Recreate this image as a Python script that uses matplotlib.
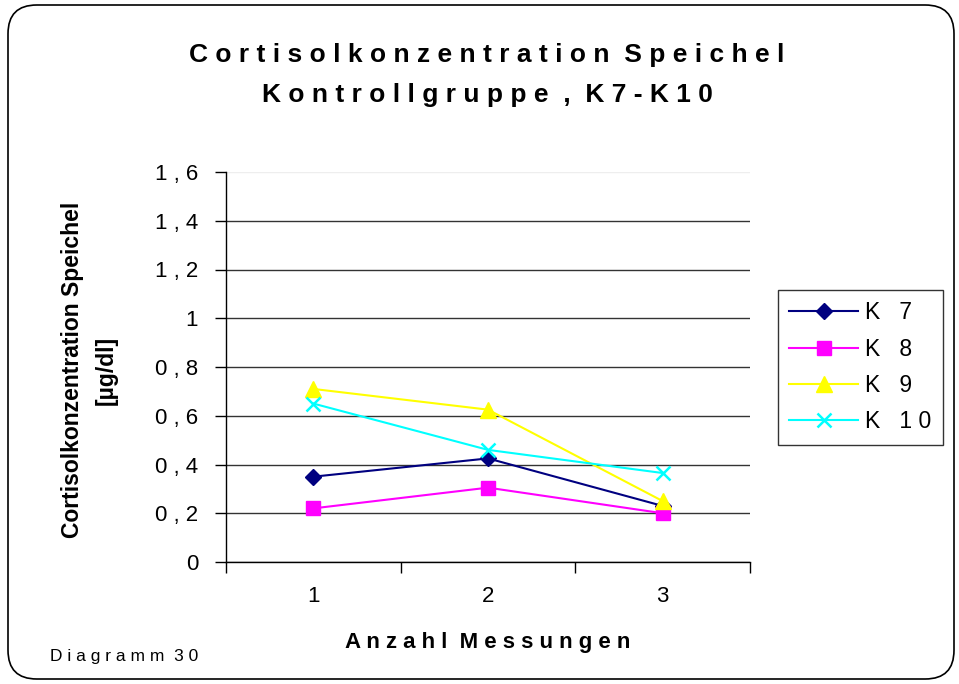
import matplotlib
matplotlib.use("Agg")
import matplotlib.pyplot as plt
from matplotlib.patches import FancyBboxPatch

plt.rcParams['font.family'] = ['Liberation Sans', 'DejaVu Sans']

categories = [1, 2, 3]
series_names = ["K 7", "K 8", "K 9", "K 10"]
k7 = [0.35, 0.425, 0.23]
k8 = [0.22, 0.305, 0.20]
k9 = [0.71, 0.625, 0.25]
k10 = [0.65, 0.46, 0.365]
y_ticks = [0, 0.2, 0.4, 0.6, 0.8, 1.0, 1.2, 1.4, 1.6]
y_tick_labels = ["0", "0 , 2", "0 , 4", "0 , 6", "0 , 8", "1", "1 , 2", "1 , 4", "1 , 6"]
title_lines = ["Cortisolkonzentration Speichel", "Kontrollgruppe , K7-K10"]
x_label = "Anzahl Messungen"
y_label = "Cortisolkonzentration Speichel\n[µg/dl]"
footnote = "Diagramm 30"


def spaced(s):
    words = s.split(" ")
    return "  ".join(" ".join(w) for w in words)


W, H = 959, 684
fig = plt.figure(figsize=(W / 100, H / 100), dpi=100)

# rounded border
border = FancyBboxPatch((8 / W, 5 / H), (946 / W), (674 / H),
                        boxstyle="round,pad=0,rounding_size=0.03",
                        transform=fig.transFigure, fill=False,
                        edgecolor='black', linewidth=1.2, mutation_aspect=W / H)
fig.patches.append(border)

ax = fig.add_axes([226 / W, 1 - 562 / H, (750 - 226) / W, (562 - 172) / H])

styles = [
    dict(color='#000080', marker='D', markersize=8, markerfacecolor='#000080', markeredgecolor='#000080'),
    dict(color='#FF00FF', marker='s', markersize=10, markerfacecolor='#FF00FF', markeredgecolor='#FF00FF'),
    dict(color='#FFFF00', marker='^', markersize=11, markerfacecolor='#FFFF00', markeredgecolor='#FFFF00'),
    dict(color='#00FFFF', marker='x', markersize=10, markeredgewidth=1.8),
]
for name, vals, st in zip(series_names, [k7, k8, k9, k10], styles):
    ax.plot(categories, vals, linewidth=1.5, label=name, zorder=3, **st)

ax.set_xlim(0.5, 3.5)
ax.set_ylim(0, 1.6)
ax.set_yticks(y_ticks)
ax.set_yticklabels(y_tick_labels, fontsize=16)
ax.set_xticks([0.5, 1.5, 2.5, 3.5])
ax.set_xticklabels([])
ax.set_xticks(categories, minor=True)
ax.set_xticklabels([str(c) for c in categories], minor=True, fontsize=16)
ax.tick_params(axis='x', which='minor', length=0, pad=17)
ax.tick_params(axis='x', which='major', length=8, direction='out', width=1)
ax.tick_params(axis='y', length=8, direction='out', width=1, pad=12)

for s in ['top', 'right']:
    ax.spines[s].set_visible(False)
for s in ['left', 'bottom']:
    ax.spines[s].set_linewidth(1)

ax.yaxis.grid(True, color='#333333', linewidth=1)
ax.set_axisbelow(True)
gl = ax.yaxis.get_gridlines()
gl[-1].set_color('#eeeeee')

ax.set_xlabel(spaced(x_label), fontsize=16, fontweight='bold')
ax.xaxis.set_label_coords(0.5, -0.18)
fig.text(89 / W, 1 - 370 / H, y_label, rotation=90, fontsize=16.5, fontweight='bold',
         ha='center', va='center', linespacing=1.6)

fig.text(487 / W, 1 - 55 / H, spaced(title_lines[0]), fontsize=19, fontweight='bold',
         ha='center', va='center')
fig.text(487 / W, 1 - 95 / H, spaced(title_lines[1]), fontsize=19, fontweight='bold',
         ha='center', va='center')

fig.text(50 / W, 1 - 657 / H, spaced(footnote), fontsize=12.5, ha='left', va='center')

leg = ax.legend(loc='upper left', bbox_to_anchor=(778 / W, 1 - 290 / H), bbox_transform=fig.transFigure,
                frameon=True, fancybox=False, edgecolor='black', fontsize=16.5,
                handlelength=3.0, labelspacing=0.58, borderpad=0.5, handletextpad=0.3,
                borderaxespad=0)
leg.get_frame().set_linewidth(1)
for t in leg.get_texts():
    t.set_text("K   " + " ".join(t.get_text().replace("K", "").strip()))

fig.savefig("out.png", dpi=100)
